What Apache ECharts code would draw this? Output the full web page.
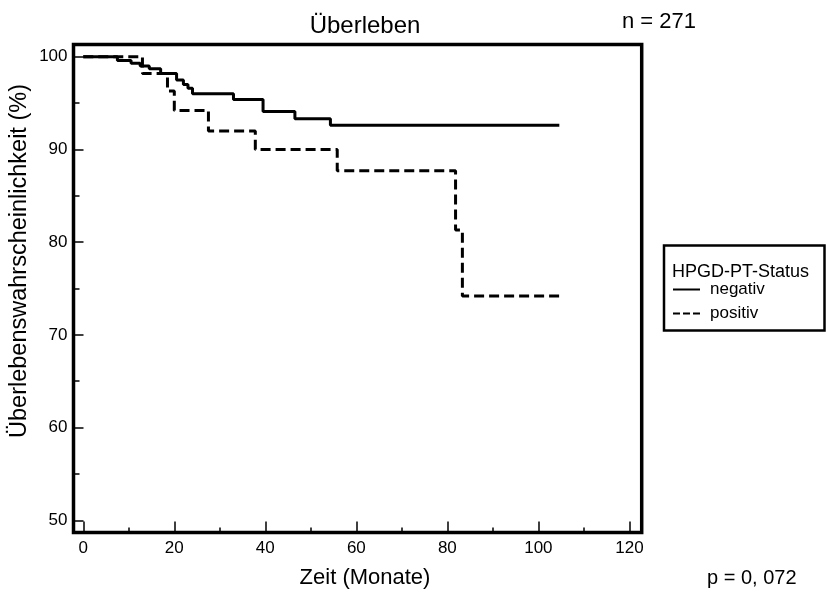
<!DOCTYPE html>
<html>
<head>
<meta charset="utf-8">
<script src="https://cdn.jsdelivr.net/npm/echarts@6/dist/echarts.min.js"></script>
<style>
  html, body { margin: 0; padding: 0; background: #fff; }
  #container { width: 828px; height: 593px; }
</style>
</head>
<body>
<div id="container"></div>
<script>
var dom = document.getElementById("container");
var myChart = echarts.init(dom);

var font = '"Liberation Sans", Arial, sans-serif';

// Kaplan-Meier steps (months, survival %)
var negMonths = [0, 7.5, 10.5, 12.5, 14.5, 17, 20.5, 22, 23, 24, 33, 39.5, 46.5, 54.3, 104.6];
var negSurv = [100, 99.6, 99.3, 99.0, 98.7, 98.2, 97.5, 97.0, 96.6, 96.0, 95.4, 94.1, 93.3, 92.6, 92.6];
var posMonths = [0, 13, 18.5, 20, 27.5, 37.8, 55.8, 81.8, 83.3, 104.8];
var posSurv = [100, 98.2, 96.3, 94.2, 92.0, 90.0, 87.7, 81.3, 74.2, 74.2];

var groupNames = ['negativ', 'positiv'];

// ticks
var xMajor = [0, 20, 40, 60, 80, 100, 120];
var xMinor = [10, 30, 50, 70, 90, 110];
var yMajor = [50, 60, 70, 80, 90, 100];
var yMinor = [55, 65, 75, 85, 95];

// the frame is a bit wider than the tick range
var xMin = -2.15, xMax = 122.7;
var yMin = 48.68, yMax = 101.32;

function pairs(xs, ys) {
    return xs.map(function (x, i) { return [x, ys[i]]; });
}

var tickLine = { color: '#000', width: 1.5 };

option = {
    backgroundColor: '#ffffff',
    textStyle: { fontFamily: font, color: '#000' },
    animation: false,
    title: {
        text: 'Überleben',
        left: 360,
        top: 9,
        textAlign: 'center',
        textStyle: { fontFamily: font, fontSize: 24, fontWeight: 'normal', color: '#000' }
    },
    legend: {
        data: [
            { name: groupNames[0] },
            { name: groupNames[1], lineStyle: { type: [7, 3] } }
        ],
        orient: 'vertical',
        left: 672,
        top: 281,
        itemWidth: 27,
        itemHeight: 14,
        itemGap: 7,
        padding: 0,
        selectedMode: false,
        itemStyle: { color: 'rgba(0,0,0,0)', opacity: 0, borderWidth: 0 },
        textStyle: { fontFamily: font, fontSize: 17, color: '#000', padding: [0, 0, 0, 5] }
    },
    grid: {
        left: 73.5, right: 186.3, top: 44.5, bottom: 60.5,
        show: true, borderColor: '#000', borderWidth: 3.5,
        backgroundColor: 'transparent',
        outerBoundsMode: 'none'
    },
    xAxis: [
        {
            type: 'value', position: 'bottom',
            min: xMin, max: xMax,
            axisLine: { show: false, onZero: false },
            axisTick: { show: true, inside: true, length: 11, customValues: xMajor, lineStyle: tickLine },
            splitLine: { show: false },
            axisLabel: { color: '#000', fontSize: 17, fontFamily: font, margin: 7, customValues: xMajor }
        },
        {
            type: 'value', position: 'bottom',
            min: xMin, max: xMax,
            axisLine: { show: false, onZero: false },
            axisTick: { show: true, inside: true, length: 5, customValues: xMinor, lineStyle: tickLine },
            splitLine: { show: false },
            axisLabel: { show: false }
        }
    ],
    yAxis: [
        {
            type: 'value', position: 'left',
            min: yMin, max: yMax,
            axisLine: { show: false, onZero: false },
            axisTick: { show: true, inside: true, length: 10, customValues: yMajor, lineStyle: tickLine },
            splitLine: { show: false },
            axisLabel: { color: '#000', fontSize: 17, fontFamily: font, margin: 6, customValues: yMajor }
        },
        {
            type: 'value', position: 'left',
            min: yMin, max: yMax,
            axisLine: { show: false, onZero: false },
            axisTick: { show: true, inside: true, length: 6, customValues: yMinor, lineStyle: tickLine },
            splitLine: { show: false },
            axisLabel: { show: false }
        }
    ],
    graphic: [
        {
            type: 'text', x: 365, y: 578,
            style: { text: 'Zeit (Monate)', fill: '#000', fontSize: 22, fontFamily: font, align: 'center', verticalAlign: 'middle' }
        },
        {
            type: 'text', x: 20, y: 261, rotation: Math.PI / 2,
            style: { text: 'Überlebenswahrscheinlichkeit (%)', fill: '#000', fontSize: 23.5, fontFamily: font, align: 'center', verticalAlign: 'middle' }
        },
        {
            type: 'text', x: 622, y: 22,
            style: { text: 'n = 271', fill: '#000', fontSize: 22, fontFamily: font, align: 'left', verticalAlign: 'middle' }
        },
        {
            type: 'text', x: 707, y: 578,
            style: { text: 'p = 0, 072', fill: '#000', fontSize: 20, fontFamily: font, align: 'left', verticalAlign: 'middle' }
        },
        {
            type: 'rect', shape: { x: 664, y: 245.5, width: 160.5, height: 85 },
            style: { fill: 'transparent', stroke: '#000', lineWidth: 2.5 }
        },
        {
            type: 'text', x: 672, y: 272.5,
            style: { text: 'HPGD-PT-Status', fill: '#000', fontSize: 18, fontFamily: font, align: 'left', verticalAlign: 'middle' }
        }
    ],
    series: [
        {
            name: groupNames[0],
            type: 'line',
            step: 'end',
            symbol: 'none',
            lineStyle: { color: '#000', width: 3 },
            itemStyle: { color: '#000' },
            data: pairs(negMonths, negSurv)
        },
        {
            name: groupNames[1],
            type: 'line',
            step: 'end',
            symbol: 'none',
            lineStyle: { color: '#000', width: 3, type: [10, 5] },
            itemStyle: { color: '#000' },
            data: pairs(posMonths, posSurv)
        }
    ]
};

if (option && typeof option === "object") {
    myChart.setOption(option, true);
}
</script>
</body>
</html>
